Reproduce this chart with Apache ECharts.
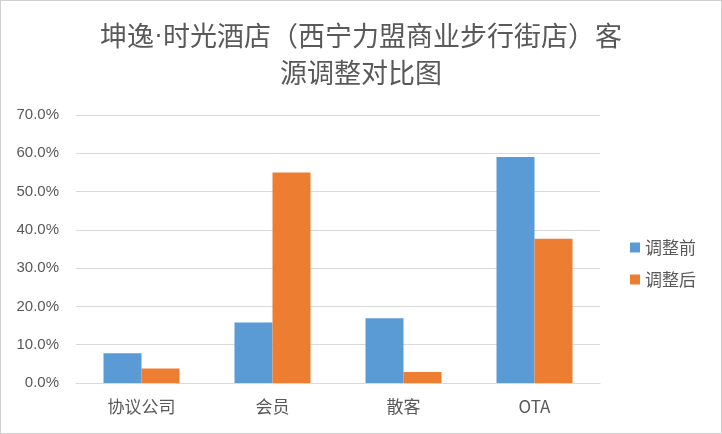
<!DOCTYPE html>
<html><head><meta charset="utf-8">
<script src="https://cdn.jsdelivr.net/npm/echarts@6/dist/echarts.min.js"></script>
<style>html,body{margin:0;padding:0;background:#fff}#c{width:720px;height:432px;border:1px solid #d0d0d0}</style>
</head><body><div id="c"></div>
<script>
const categories = ['协议公司', '会员', '散客', 'OTA'];
const seriesNames = ['调整前', '调整后'];
const before = [0.078, 0.158, 0.169, 0.590];
const after = [0.038, 0.550, 0.029, 0.377];
const yTicks = { min: 0, max: 0.7, interval: 0.1 };
const colors = ['#5B9BD5', '#ED7D31'];
const font = '"Noto Sans CJK SC", sans-serif';

const chart = echarts.init(document.getElementById('c'));
chart.setOption({
  animation: false,
  title: {
    text: '{a|坤逸}{d|·}{a|时光酒店（西宁力盟商业步行街店）客}\n{a|源调整对比图}',
    left: 'center', top: 11,
    textStyle: {
      fontWeight: 'normal',
      rich: {
        a: { color: '#595959', fontSize: 27, fontWeight: 'normal', fontFamily: font, lineHeight: 37 },
        d: { color: '#595959', fontSize: 27, fontWeight: 'normal', fontFamily: '"Liberation Sans", sans-serif', lineHeight: 37 }
      }
    }
  },
  legend: {
    orient: 'vertical', right: 20, top: 233,
    itemWidth: 10, itemHeight: 10, itemGap: 15,
    icon: 'rect',
    textStyle: { color: '#595959', fontSize: 17, fontFamily: font },
    data: seriesNames
  },
  grid: { left: 75, right: 121, top: 114, bottom: 50 },
  xAxis: {
    type: 'category', data: categories,
    axisLine: { lineStyle: { color: '#d9d9d9' } },
    axisTick: { show: false },
    axisLabel: { color: '#595959', fontSize: 17, fontFamily: font, margin: 15 }
  },
  yAxis: {
    type: 'value', min: yTicks.min, max: yTicks.max, interval: yTicks.interval,
    axisLine: { show: false }, axisTick: { show: false },
    splitLine: { lineStyle: { color: '#d9d9d9' } },
    axisLabel: { color: '#595959', fontSize: 15, fontFamily: '"Liberation Sans", sans-serif', margin: 17,
      formatter: v => (v * 100).toFixed(1) + '%' }
  },
  series: [
    { name: seriesNames[0], type: 'bar', data: before, color: colors[0], barWidth: 38, barGap: '0%' },
    { name: seriesNames[1], type: 'bar', data: after, color: colors[1], barWidth: 38, barGap: '0%' }
  ]
});
</script></body></html>
